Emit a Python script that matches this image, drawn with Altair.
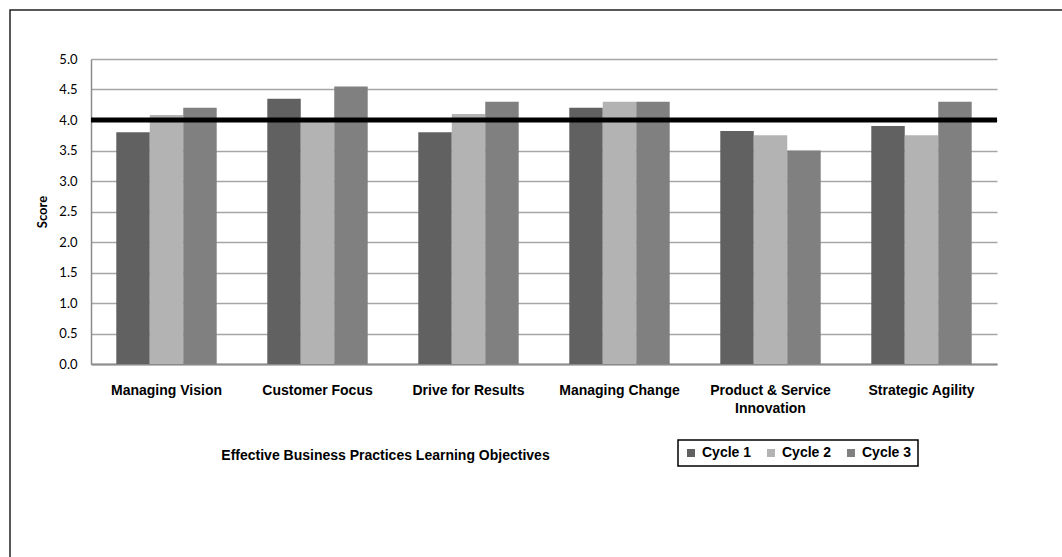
import altair as alt
import pandas as pd

categories = ["Managing Vision", "Customer Focus", "Drive for Results",
              "Managing Change", "Product & Service Innovation", "Strategic Agility"]
cycles = ["Cycle 1", "Cycle 2", "Cycle 3"]
cycle1 = [3.80, 4.35, 3.80, 4.20, 3.82, 3.90]
cycle2 = [4.08, 4.00, 4.10, 4.30, 3.75, 3.75]
cycle3 = [4.20, 4.55, 4.30, 4.30, 3.50, 4.30]
colors = ["#616161", "#b3b3b3", "#808080"]
target = 4.0
y_ticks = [0.0, 0.5, 1.0, 1.5, 2.0, 2.5, 3.0, 3.5, 4.0, 4.5, 5.0]

rows = []
for i, c in enumerate(categories):
    for name, vals in zip(cycles, [cycle1, cycle2, cycle3]):
        rows.append({"Objective": c, "Cycle": name, "Score": vals[i]})
df = pd.DataFrame(rows)

W, H = 906, 305

y_axis = alt.Axis(values=y_ticks, format=".1f", title="Score", labelOverlap=False,
                  titleFont="Lato", titleFontSize=13, titleFontWeight="bold",
                  titleColor="black", titleX=-49, titleY=H / 2,
                  titleAngle=270, titleAlign="center", titleBaseline="middle",
                  labelFont="Lato", labelFontSize=13, labelColor="black",
                  labelPadding=14, ticks=False,
                  domainColor="#8c8c8c", domainWidth=1.5,
                  grid=True, gridColor="#a6a6a6", gridWidth=1.5)
y_scale = alt.Scale(domain=[0, 5], nice=False)

bars = alt.Chart(df).mark_bar().encode(
    x=alt.X("Objective:N", sort=categories,
            scale=alt.Scale(paddingInner=0.335, paddingOuter=0.1675),
            axis=alt.Axis(
                title="Effective Business Practices Learning Objectives",
                titleFont="Liberation Sans", titleFontSize=14, titleFontWeight="bold",
                titleColor="black", titleX=294, titleY=91, titleAlign="center",
                titleBaseline="middle",
                labelAngle=0, labelFont="Liberation Sans", labelFontSize=14,
                labelFontWeight="bold", labelColor="black", labelPadding=19,
                labelLineHeight=18, labelBaseline="top",
                labelExpr="datum.label == 'Product & Service Innovation' ? ['Product & Service', 'Innovation'] : datum.label",
                ticks=False, domainColor="#8c8c8c", domainWidth=2, grid=False)),
    xOffset=alt.XOffset("Cycle:N", sort=cycles, scale=alt.Scale(paddingInner=0, paddingOuter=0)),
    y=alt.Y("Score:Q", scale=y_scale, axis=y_axis),
    color=alt.Color("Cycle:N", sort=cycles,
                    scale=alt.Scale(domain=cycles, range=colors),
                    legend=alt.Legend(title=None, orient="none", legendX=587, legendY=381,
                                      direction="horizontal", symbolType="square",
                                      symbolSize=64, symbolStrokeWidth=0,
                                      labelFont="Liberation Sans", labelFontSize=14,
                                      labelFontWeight="bold", labelColor="black",
                                      labelOffset=4, columnPadding=12, padding=6,
                                      strokeColor="black", fillColor="white")),
)

ref = alt.Chart(pd.DataFrame({"Score": [target]})).mark_rule(color="black", strokeWidth=5).encode(
    y=alt.Y("Score:Q", scale=y_scale, axis=y_axis))

frame = alt.Chart(pd.DataFrame({"a": [0]})).mark_rect(
    fillOpacity=0, stroke="#222222", strokeWidth=1.5).encode(
    x=alt.value(-81), x2=alt.value(1200), y=alt.value(-49), y2=alt.value(700))

chart = alt.layer(bars, ref, frame).properties(
    width=W, height=H,
    autosize=alt.AutoSizeParams(type="none"),
    padding={"left": 91, "top": 59, "right": 1062 - 91 - W, "bottom": 557 - 59 - H},
    background="white",
).configure_view(strokeWidth=0).configure_legend(strokeWidth=1.5)

chart.save("out.html", embed_options={"renderer": "svg", "actions": False})
